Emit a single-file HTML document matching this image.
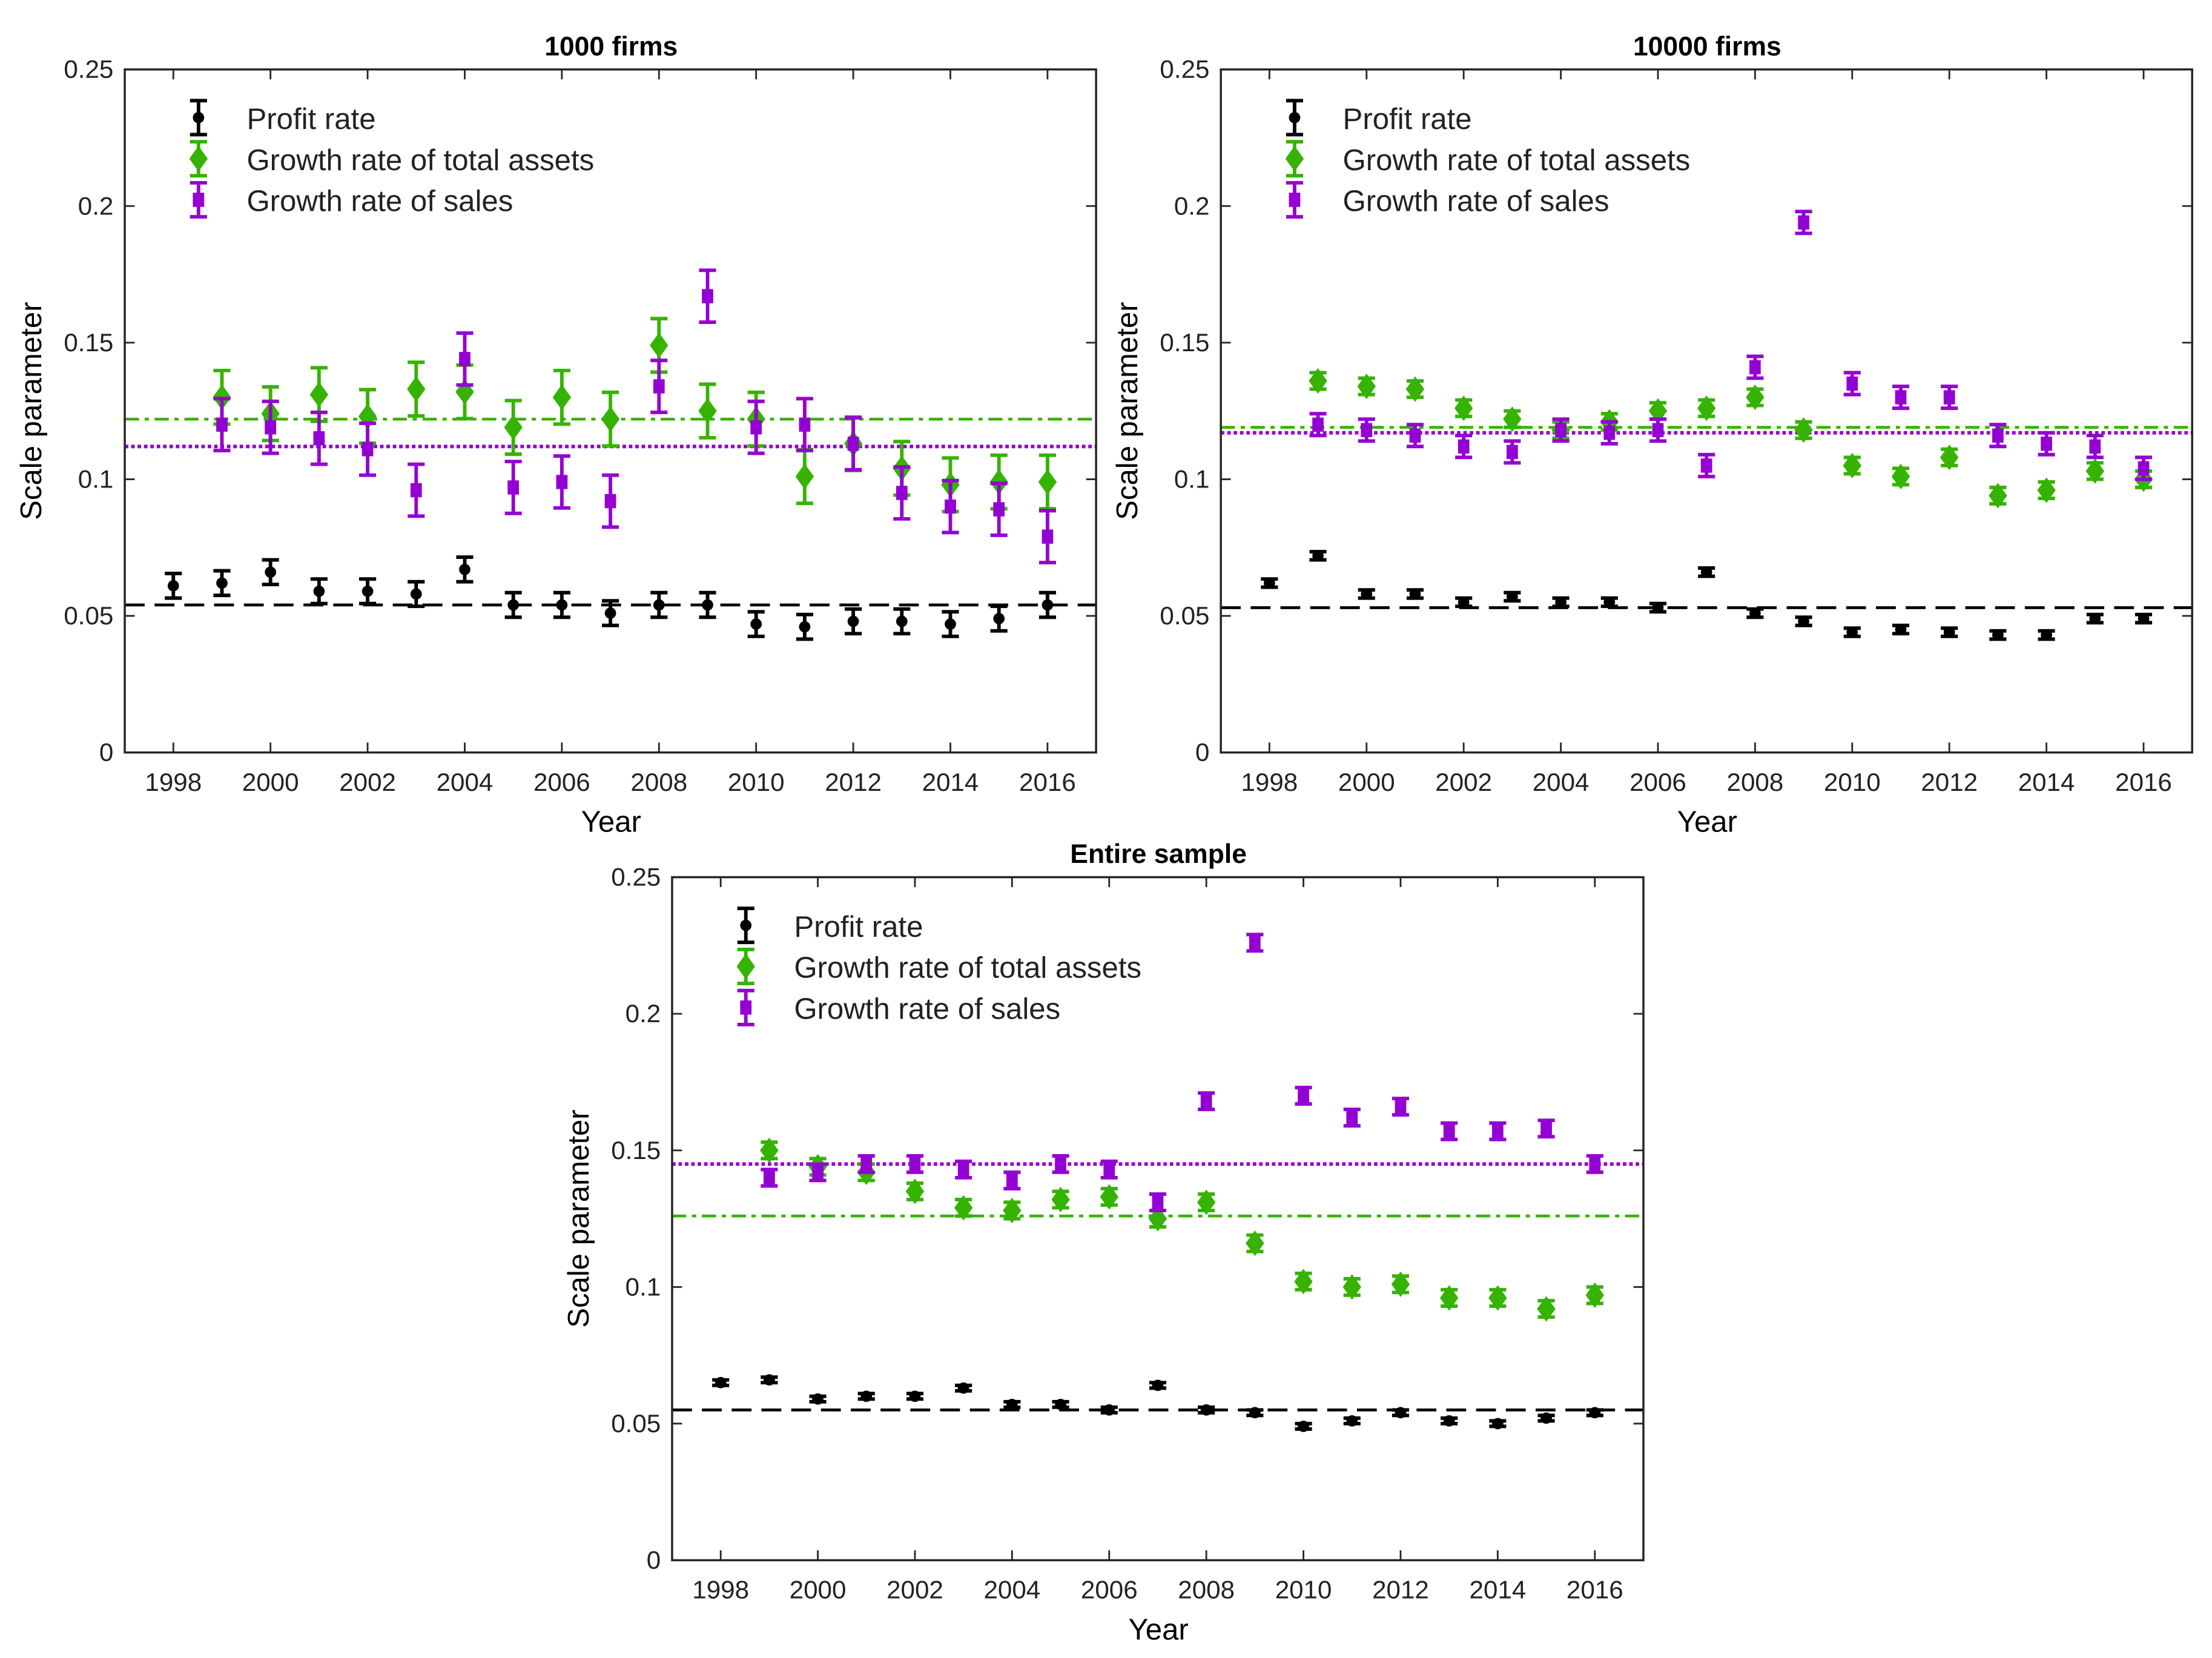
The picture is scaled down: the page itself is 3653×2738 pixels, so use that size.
<!DOCTYPE html>
<html><head><meta charset="utf-8"><style>
html,body{margin:0;padding:0;background:#fff}
svg{display:block}
text{font-family:"Liberation Sans",Arial,sans-serif;fill:#222}
.t{font-size:18px}
.l{font-size:21px;fill:#000}
.h{font-size:19px;font-weight:bold;fill:#000}
</style></head><body>
<svg id="s" width="3653" height="2738" viewBox="0 0 1560 1170" preserveAspectRatio="none" xmlns="http://www.w3.org/2000/svg">
<rect width="1560" height="1170" fill="#fff"/>
<g id="data"></g>
<!-- Plot 1 -->
<g transform="translate(88,49)">
<text class="h" x="343" y="-10" text-anchor="middle">1000 firms</text>
<g class="t" text-anchor="end">
<text x="-8" y="488">0</text><text x="-8" y="391.6">0.05</text><text x="-8" y="295.2">0.1</text><text x="-8" y="198.8">0.15</text><text x="-8" y="102.4">0.2</text><text x="-8" y="6">0.25</text></g>
<g class="t" text-anchor="middle">
<text x="34.25" y="509">1998</text><text x="102.75" y="509">2000</text><text x="171.25" y="509">2002</text><text x="239.75" y="509">2004</text><text x="308.25" y="509">2006</text><text x="376.75" y="509">2008</text><text x="445.25" y="509">2010</text><text x="513.75" y="509">2012</text><text x="582.25" y="509">2014</text><text x="650.75" y="509">2016</text></g>
<text class="l" x="343" y="538" text-anchor="middle">Year</text>
<text class="l" transform="translate(-59,241) rotate(-90)" text-anchor="middle">Scale parameter</text>
<g class="l"><text x="86" y="42">Profit rate</text><text x="86" y="71">Growth rate of total assets</text><text x="86" y="100">Growth rate of sales</text></g>
</g>
<!-- Plot 2 -->
<g transform="translate(861,49)">
<text class="h" x="343" y="-10" text-anchor="middle">10000 firms</text>
<g class="t" text-anchor="end">
<text x="-8" y="488">0</text><text x="-8" y="391.6">0.05</text><text x="-8" y="295.2">0.1</text><text x="-8" y="198.8">0.15</text><text x="-8" y="102.4">0.2</text><text x="-8" y="6">0.25</text></g>
<g class="t" text-anchor="middle">
<text x="34.25" y="509">1998</text><text x="102.75" y="509">2000</text><text x="171.25" y="509">2002</text><text x="239.75" y="509">2004</text><text x="308.25" y="509">2006</text><text x="376.75" y="509">2008</text><text x="445.25" y="509">2010</text><text x="513.75" y="509">2012</text><text x="582.25" y="509">2014</text><text x="650.75" y="509">2016</text></g>
<text class="l" x="343" y="538" text-anchor="middle">Year</text>
<text class="l" transform="translate(-59,241) rotate(-90)" text-anchor="middle">Scale parameter</text>
<g class="l"><text x="86" y="42">Profit rate</text><text x="86" y="71">Growth rate of total assets</text><text x="86" y="100">Growth rate of sales</text></g>
</g>
<!-- Plot 3 -->
<g transform="translate(474,619)">
<text class="h" x="343" y="-10" text-anchor="middle">Entire sample</text>
<g class="t" text-anchor="end">
<text x="-8" y="488">0</text><text x="-8" y="391.6">0.05</text><text x="-8" y="295.2">0.1</text><text x="-8" y="198.8">0.15</text><text x="-8" y="102.4">0.2</text><text x="-8" y="6">0.25</text></g>
<g class="t" text-anchor="middle">
<text x="34.25" y="509">1998</text><text x="102.75" y="509">2000</text><text x="171.25" y="509">2002</text><text x="239.75" y="509">2004</text><text x="308.25" y="509">2006</text><text x="376.75" y="509">2008</text><text x="445.25" y="509">2010</text><text x="513.75" y="509">2012</text><text x="582.25" y="509">2014</text><text x="650.75" y="509">2016</text></g>
<text class="l" x="343" y="538" text-anchor="middle">Year</text>
<text class="l" transform="translate(-59,241) rotate(-90)" text-anchor="middle">Scale parameter</text>
<g class="l"><text x="86" y="42">Profit rate</text><text x="86" y="71">Growth rate of total assets</text><text x="86" y="100">Growth rate of sales</text></g>
</g>
</svg>
<script>
const G='#36b300',P='#9400d3',K='#000';
const plots=[
{x:88,y:49,lines:[.054,.122,.112],
p:[.061,.062,.066,.059,.059,.058,.067,.054,.054,.051,.054,.054,.047,.046,.048,.048,.047,.049,.054],pe:.0045,
a:[.130,.124,.131,.123,.133,.132,.119,.130,.122,.149,.125,.122,.101,.113,.104,.098,.099,.099],ae:.0098,
s:[.120,.119,.115,.111,.096,.144,.097,.099,.092,.134,.167,.119,.120,.113,.095,.090,.089,.079],se:.0095},
{x:861,y:49,lines:[.053,.119,.117],
p:[.062,.072,.058,.058,.055,.057,.055,.055,.053,.066,.051,.048,.044,.045,.044,.043,.043,.049,.049],pe:.0015,
a:[.136,.134,.133,.126,.122,.118,.121,.125,.126,.130,.118,.105,.101,.108,.094,.096,.103,.100],ae:.003,
s:[.120,.118,.116,.112,.110,.118,.117,.118,.105,.141,.194,.135,.130,.130,.116,.113,.112,.104],se:.004},
{x:474,y:619,lines:[.055,.126,.145],
p:[.065,.066,.059,.060,.060,.063,.057,.057,.055,.064,.055,.054,.049,.051,.054,.051,.050,.052,.054],pe:.001,
a:[.150,.144,.142,.135,.129,.128,.132,.133,.125,.131,.116,.102,.100,.101,.096,.096,.092,.097],ae:.003,
s:[.140,.142,.145,.145,.143,.139,.145,.143,.131,.168,.226,.170,.162,.166,.157,.157,.158,.145],se:.003}];
let h='';
function eb(x,y1,y2,c){return `<line x1="${x}" y1="${y1}" x2="${x}" y2="${y2}" stroke="${c}" stroke-width="2.5"/><line x1="${x-6}" y1="${y1}" x2="${x+6}" y2="${y1}" stroke="${c}" stroke-width="2.5"/><line x1="${x-6}" y1="${y2}" x2="${x+6}" y2="${y2}" stroke="${c}" stroke-width="2.5"/>`;}
function mk(t,x,y){
 if(t=='p')return `<circle cx="${x}" cy="${y}" r="4" fill="${K}"/>`;
 if(t=='a')return `<polygon points="${x},${y-9} ${x+6.5},${y} ${x},${y+9} ${x-6.5},${y}" fill="${G}"/>`;
 return `<rect x="${x-4}" y="${y-5}" width="8" height="10" fill="${P}"/>`;}
for(const p of plots){
 const X=yr=>p.x+(yr-1997)*34.25, Y=v=>p.y+482-v/0.25*482;
 const L=p.x,R=p.x+685,T=p.y,B=p.y+482;
 h+=`<line x1="${L}" x2="${R}" y1="${Y(p.lines[0])}" y2="${Y(p.lines[0])}" stroke="#000" stroke-width="2" stroke-dasharray="14,7"/>`;
 h+=`<line x1="${L}" x2="${R}" y1="${Y(p.lines[1])}" y2="${Y(p.lines[1])}" stroke="${G}" stroke-width="2" stroke-dasharray="10,4,3,4"/>`;
 h+=`<line x1="${L}" x2="${R}" y1="${Y(p.lines[2])}" y2="${Y(p.lines[2])}" stroke="${P}" stroke-width="2.5" stroke-dasharray="2.5,2"/>`;
 p.p.forEach((v,i)=>{const x=X(1998+i);h+=eb(x,Y(v+p.pe),Y(v-p.pe),K)+mk('p',x,Y(v));});
 p.a.forEach((v,i)=>{const x=X(1999+i);h+=eb(x,Y(v+p.ae),Y(v-p.ae),G)+mk('a',x,Y(v));});
 p.s.forEach((v,i)=>{const x=X(1999+i);h+=eb(x,Y(v+p.se),Y(v-p.se),P)+mk('s',x,Y(v));});
 h+=`<rect x="${L}" y="${T}" width="685" height="482" fill="none" stroke="#262626" stroke-width="1.5"/>`;
 for(let k=0;k<=5;k++){const y=B-k*96.4;h+=`<line x1="${L}" x2="${L+7}" y1="${y}" y2="${y}" stroke="#262626" stroke-width="1.2"/><line x1="${R-7}" x2="${R}" y1="${y}" y2="${y}" stroke="#262626" stroke-width="1.2"/>`;}
 for(let yr=1998;yr<=2016;yr+=2){const x=X(yr);h+=`<line x1="${x}" x2="${x}" y1="${B}" y2="${B-7}" stroke="#262626" stroke-width="1.2"/><line x1="${x}" x2="${x}" y1="${T}" y2="${T+7}" stroke="#262626" stroke-width="1.2"/>`;}
 const lx=p.x+52;
 h+=eb(lx,p.y+22,p.y+46,K)+mk('p',lx,p.y+34);
 h+=eb(lx,p.y+51,p.y+75,G)+mk('a',lx,p.y+63);
 h+=eb(lx,p.y+80,p.y+104,P)+mk('s',lx,p.y+92);
}
document.getElementById('data').innerHTML=h;
</script>
</body></html>
